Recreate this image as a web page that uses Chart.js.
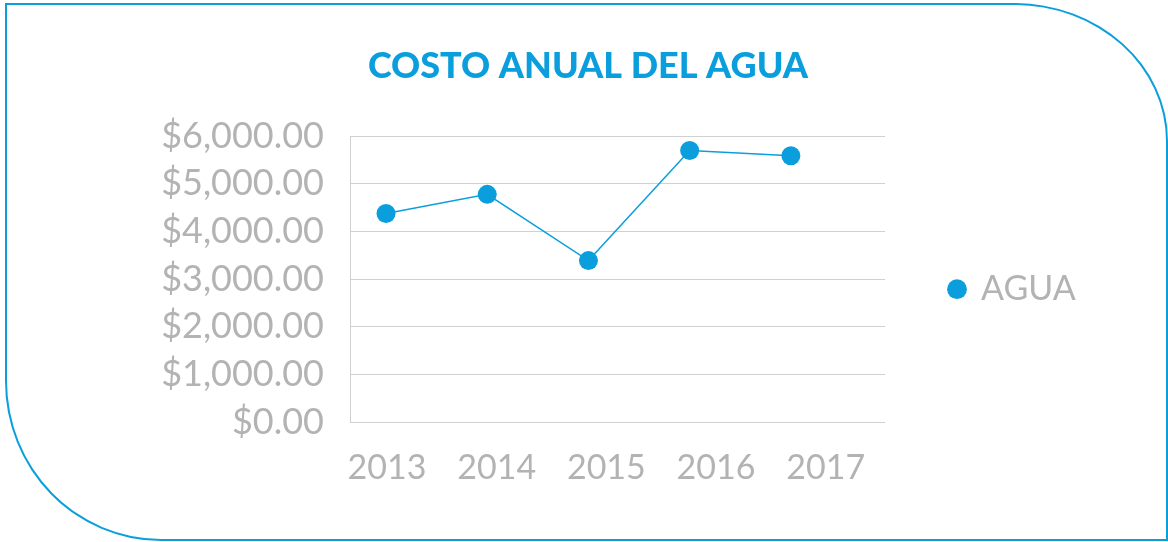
<!DOCTYPE html>
<html lang="es">
<head>
    <meta charset="UTF-8">
    <title>Costo anual del agua</title>
    <script src="https://cdn.jsdelivr.net/npm/chart.js"></script>
    <style>
        html, body { margin: 0; padding: 0; background: #fff; }
        .marco {
            position: absolute;
            left: 5px; top: 3px;
            width: 1163px; height: 538px;
            box-sizing: border-box;
            border: 2px solid #0a9fdc;
            border-radius: 0 154px 0 156px / 0 138px 0 160px;
        }
        #chartAgua { position: absolute; left: 0; top: 0; }
    </style>
</head>
<body>
    <div class="marco"></div>
    <canvas id="chartAgua" width="1168" height="542"></canvas>

    <script>
        // datos
        const anios = ['2013', '2014', '2015', '2016', '2017'];
        const costoAgua = [4380, 4780, 3390, 5700, 5590];
        const ticksY = [0, 1000, 2000, 3000, 4000, 5000, 6000];

        const azul = '#0a9fdc';
        const gris = '#b3b3b3';

        const puntos = costoAgua.map((v, i) => ({ x: i, y: v }));

        const fmt = v => '$' + v.toLocaleString('en-US', { minimumFractionDigits: 2, maximumFractionDigits: 2 });

        // la leyenda ocupa de la derecha del area hasta el borde
        const anchoLeyenda = {
            id: 'anchoLeyenda',
            beforeLayout(chart) {
                const lg = chart.legend;
                if (lg && !lg._fijo) {
                    const fit = lg.fit;
                    lg.fit = function () { fit.call(this); this.width = 283; };
                    lg._fijo = true;
                }
            }
        };

        new Chart(document.getElementById('chartAgua'), {
            type: 'line',
            data: {
                datasets: [{
                    label: 'AGUA',
                    data: puntos,
                    xAxisID: 'x',
                    borderColor: azul,
                    backgroundColor: azul,
                    borderWidth: 1.5,
                    pointRadius: 9.5,
                    pointHoverRadius: 9.5,
                    pointBorderWidth: 0,
                    tension: 0
                }]
            },
            plugins: [anchoLeyenda],
            options: {
                responsive: false,
                animation: false,
                layout: { padding: { left: 8, right: 0, top: 0, bottom: 37 } },
                plugins: {
                    title: {
                        display: true,
                        text: 'COSTO ANUAL DEL AGUA',
                        color: azul,
                        font: { family: 'Lato', size: 36, weight: '900', lineHeight: 1.2 },
                        padding: { top: 45, bottom: 48 }
                    },
                    legend: {
                        position: 'right',
                        fullSize: false,
                        title: { display: true, text: '', padding: 4, font: { size: 10 } },
                        labels: {
                            usePointStyle: true,
                            pointStyle: 'circle',
                            boxWidth: 14,
                            boxHeight: 14,
                            padding: 65,
                            color: gris,
                            font: { family: 'Lato', size: 34, weight: '400' }
                        }
                    },
                    tooltip: { enabled: false }
                },
                scales: {
                    x: {
                        type: 'linear',
                        display: false,
                        min: -0.356,
                        max: 4.93
                    },
                    x2: {
                        type: 'linear',
                        position: 'bottom',
                        min: -0.337,
                        max: 4.54,
                        afterBuildTicks: s => { s.ticks = anios.map((a, i) => ({ value: i })); },
                        grid: { display: false },
                        border: { display: false },
                        ticks: {
                            callback: v => anios[v],
                            color: gris,
                            padding: 17,
                            maxRotation: 0,
                            autoSkip: false,
                            font: { family: 'Lato', size: 34, weight: '400' }
                        }
                    },
                    y: {
                        min: 0,
                        max: 6000,
                        afterBuildTicks: s => { s.ticks = ticksY.map(v => ({ value: v })); },
                        afterFit: s => { s.width = 342; },
                        grid: { color: '#d0d0d0', lineWidth: 1, drawTicks: false },
                        border: { display: true, color: '#d0d0d0' },
                        ticks: {
                            callback: v => fmt(v),
                            color: gris,
                            padding: 26,
                            autoSkip: false,
                            font: { family: 'Lato', size: 36, weight: '400' }
                        }
                    }
                }
            }
        });
    </script>
</body>
</html>
